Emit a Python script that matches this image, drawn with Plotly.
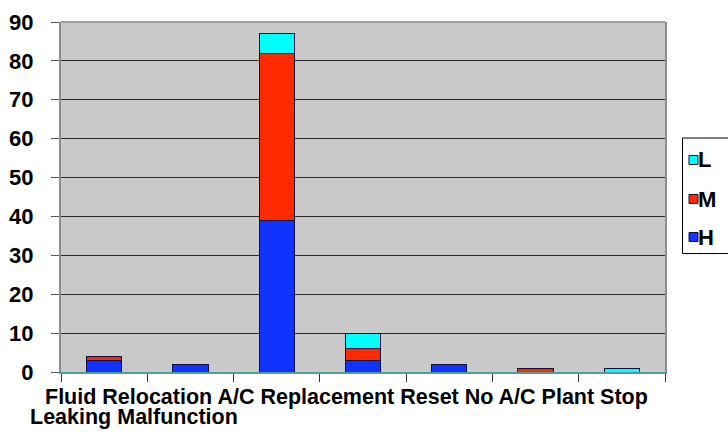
import plotly.graph_objects as go

# Incident categories (first line / second line of each label)
categories = ["Fluid Leaking", "Relocation", "A/C Malfunction", "Replacement",
              "Reset", "No A/C", "Plant Stop"]
label_line1 = ["Fluid", "Relocation", "A/C", "Replacement", "Reset", "No A/C", "Plant Stop"]
label_line2 = ["Leaking", "", "Malfunction", "", "", "", ""]

# Counts by priority
high = [3, 2, 39, 3, 2, 0, 0]
medium = [1, 0, 43, 3, 0, 1, 0]
low = [0, 0, 5, 4, 0, 0, 1]

series_names = ["H", "M", "L"]
series_colors = ["#1133FF", "#FF2A00", "#00FFFF"]

y_ticks = list(range(0, 100, 10))

FONT = "Liberation Sans, Arial, sans-serif"
OUTLINE = dict(color="#101040", width=1)

fig = go.Figure()
for name, vals, col in zip(series_names, [high, medium, low], series_colors):
    fig.add_bar(x=categories, y=vals, name=name,
                marker=dict(color=col, line=OUTLINE), showlegend=False)

W, H = 728, 437
L_M, R_M, T_M, B_M = 61, 63, 22, 65
PW, PH = W - L_M - R_M, H - T_M - B_M


def px_x(px):
    return (px - L_M) / PW


def px_y(py):
    return (H - B_M - py) / PH


fig.update_layout(
    barmode="stack",
    bargap=0.59,
    width=W, height=H,
    margin=dict(l=L_M, r=R_M, t=T_M, b=B_M, autoexpand=False),
    paper_bgcolor="white",
    plot_bgcolor="#c9c9c9",
    font=dict(family=FONT, color="black"),
    showlegend=False,
)

fig.update_yaxes(
    range=[0, 90],
    tickvals=y_ticks,
    tickfont=dict(size=22, family=FONT, weight="bold"),
    ticks="outside", ticklen=8, tickcolor="#555555",
    ticklabelstandoff=13,
    showgrid=True, gridcolor="#2a2a2a", gridwidth=1,
    zeroline=False,
    showline=True, linecolor="#8c8c8c", linewidth=2, mirror=True,
)
fig.update_xaxes(
    showticklabels=False,
    ticks="outside", ticklen=8, tickcolor="#333333",
    tickson="boundaries",
    showline=True, linecolor="#4f9d9d", linewidth=2,
    showgrid=False,
)

# top border of the plot area
fig.add_shape(type="line", xref="paper", yref="paper", x0=0, x1=1, y0=1, y1=1,
              line=dict(color="#a0a0a0", width=2))

# category labels wrapped onto two text lines
line1 = " ".join(t for t in label_line1 if t)
line2 = " ".join(t for t in label_line2 if t)
fig.add_annotation(text=line1, xref="paper", yref="paper", x=px_x(346.5), y=px_y(397),
                   xanchor="center", yanchor="middle", showarrow=False, borderpad=0,
                   font=dict(size=21.5, family=FONT, weight="bold"))
fig.add_annotation(text=line2, xref="paper", yref="paper", x=px_x(133.5), y=px_y(417),
                   xanchor="center", yanchor="middle", showarrow=False, borderpad=0,
                   font=dict(size=21.5, family=FONT, weight="bold"))

# legend box on the right (runs past the page edge), top entry = top of stack
fig.add_shape(type="rect", xref="paper", yref="paper",
              x0=px_x(682.5), x1=px_x(760), y0=px_y(138), y1=px_y(253.5),
              line=dict(color="black", width=1), fillcolor="white")
entry_y = [237, 199, 160]
for name, col, cy in zip(series_names, series_colors, entry_y):
    fig.add_shape(type="rect", xref="paper", yref="paper",
                  x0=px_x(689), x1=px_x(698), y0=px_y(cy - 4.5), y1=px_y(cy + 4.5),
                  line=dict(color="#101040", width=1), fillcolor=col)
    fig.add_annotation(text=name, xref="paper", yref="paper", x=px_x(696), y=px_y(cy),
                       xanchor="left", yanchor="middle", showarrow=False,
                       font=dict(size=22, family=FONT, weight="bold"))

fig.write_html("out.html")
